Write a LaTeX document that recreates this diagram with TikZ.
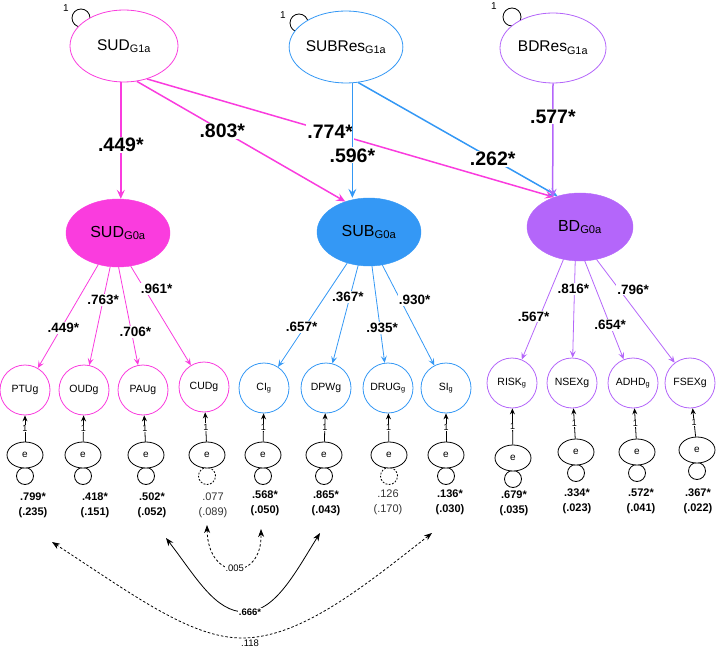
\documentclass[tikz,border=0pt]{standalone}
\usepackage{fontspec}
\setmainfont{Liberation Sans}
\usetikzlibrary{arrows.meta,calc,shapes.geometric}
\definecolor{mag}{RGB}{250,60,222}
\definecolor{blu}{RGB}{52,152,245}
\definecolor{pur}{RGB}{180,102,250}
\newcommand{\sbx}[1]{\textsubscript{#1}}
\begin{document}
\begin{tikzpicture}[x=1pt,y=-1pt,
  topell/.style={ellipse, draw=#1, line width=0.8pt, fill=white, minimum width=106pt, minimum height=72pt, inner sep=0pt, font=\fontsize{15.5}{18}\selectfont},
  midell/.style={ellipse, fill=#1, draw=#1, minimum width=104pt, minimum height=68pt, inner sep=0pt, font=\fontsize{16}{18}\selectfont},
  ind/.style={circle, draw=#1, line width=0.8pt, fill=white, minimum size=50pt, inner sep=0pt, font=\fontsize{10.5}{12}\selectfont},
  err/.style={ellipse, draw, fill=white, line width=0.8pt, minimum width=36pt, minimum height=26pt, inner sep=0pt, font=\fontsize{10}{12}\selectfont},
  loopc/.style={circle, draw, line width=0.8pt, minimum size=17pt, inner sep=0pt},
  pth/.style={line width=1.5pt, draw=#1, -{Stealth[length=9pt,width=8pt,inset=3.5pt]}},
  pathlab/.style={fill=white, inner sep=1pt, font=\fontsize{19.5}{22}\selectfont\bfseries},
  ldarr/.style={line width=0.8pt, draw=#1, -{Stealth[length=7pt,width=6pt,inset=3pt]}},
  loadlab/.style={fill=white, inner sep=1pt, font=\fontsize{13.5}{15}\selectfont\bfseries},
  errarr/.style={line width=0.8pt, -{Stealth[length=6pt,width=5pt,inset=2pt]}},
  one/.style={fill=white, inner sep=0.6pt, font=\fontsize{9}{10}\selectfont},
  onetop/.style={inner sep=0pt, font=\fontsize{10}{12}\selectfont},
  varlab/.style={align=center, font=\fontsize{11}{15}\selectfont\bfseries, inner sep=0pt},
  varlabn/.style={align=center, font=\fontsize{11}{15}\selectfont, text=black!80, inner sep=0pt},
  cov/.style={line width=0.8pt, {Stealth[length=8pt,width=6pt,inset=2.5pt]}-{Stealth[length=8pt,width=6pt,inset=2.5pt]}},
  covdash/.style={cov, dash pattern=on 2.5pt off 2pt},
  covlab/.style={fill=white, inner sep=0.6pt, font=\fontsize{9.5}{11}\selectfont},
  dloop/.style={loopc, dash pattern=on 1.8pt off 1.5pt}
]
\useasboundingbox (0,0) rectangle (720,647);

% top latent variables with variance loops
\node[loopc, minimum size=18pt] (l1) at (81,18) {};
\node[loopc, minimum size=18pt] (l2) at (299,23) {};
\node[loopc, minimum size=18pt] (l3) at (512,17) {};
\node[onetop] (o1) at (66,8) {1};
\node[onetop] (o2) at (283,15) {1};
\node[onetop] (o3) at (494,6) {1};
\node[topell=mag, minimum width=108pt] (SUDG1a) at (124,46) {SUD\sbx{G1a}};
\node[topell=blu] (SUBResG1a) at (346,47) {SUBRes\sbx{G1a}};
\node[topell=pur, minimum height=70pt] (BDResG1a) at (553,48) {BDRes\sbx{G1a}};

% middle latent variables
\node[midell=mag] (SUDG0a) at (118,233) {SUD\sbx{G0a}};
\node[midell=blu] (SUBG0a) at (369,232) {SUB\sbx{G0a}};
\node[midell=pur, minimum width=106pt] (BDG0a) at (580,227) {BD\sbx{G0a}};

% structural paths
\draw[pth=mag] (SUDG1a.-95) -- (SUDG1a.-95 |- SUDG0a.north) node[pathlab,pos=0.54]{.449*};
\draw[pth=mag] (SUDG1a.-70) -- (SUBG0a.128) node[pathlab,pos=0.41]{.803*};
\draw[pth=mag] (SUDG1a.-55) -- (BDG0a.131) node[pathlab,pos=0.45]{.774*};
\draw[pth=blu] (SUBResG1a.-80) -- (SUBResG1a.-80 |- SUBG0a.north) node[pathlab,pos=0.63]{.596*};
\draw[pth=blu] (SUBResG1a.-71) -- (BDG0a.126) node[pathlab,pos=0.675]{.262*};
\draw[pth=pur] (BDResG1a.south) -- (BDG0a.133) node[pathlab,pos=0.29]{.577*};

% indicators
\node[ind=mag] (PTUg) at (25,390) {PTUg};
\node[ind=mag] (OUDg) at (84,390) {OUDg};
\node[ind=mag] (PAUg) at (143,390) {PAUg};
\node[ind=mag] (CUDg) at (204,387) {CUDg};
\node[ind=blu] (CIg) at (264,388) {CI\sbx{g}};
\node[ind=blu] (DPWg) at (326,388) {DPWg};
\node[ind=blu] (DRUGg) at (388,388) {DRUG\sbx{g}};
\node[ind=blu] (SIg) at (446,388) {SI\sbx{g}};
\node[ind=pur] (RISKg) at (512,383) {RISK\sbx{g}};
\node[ind=pur] (NSEXg) at (572,383) {NSEXg};
\node[ind=pur] (ADHDg) at (633,383) {ADHD\sbx{g}};
\node[ind=pur] (FSEXg) at (690,383) {FSEXg};

% loadings
\draw[ldarr=mag] (SUDG0a.-122) -- (PTUg) node[loadlab,pos=0.61,xshift=2pt]{.449*};
\draw[ldarr=mag] (SUDG0a.-103) -- (OUDg) node[loadlab,pos=0.34]{.763*};
\draw[ldarr=mag] (SUDG0a.-89) -- (PAUg) node[loadlab,pos=0.66,xshift=4pt]{.706*};
\draw[ldarr=mag] (SUDG0a.-69) -- (CUDg) node[loadlab,pos=0.23,xshift=12pt]{.961*};
\draw[ldarr=blu] (SUBG0a.-125) -- (CIg) node[loadlab,pos=0.615,xshift=-3pt]{.657*};
\draw[ldarr=blu] (SUBG0a.-108) -- (DPWg) node[loadlab,pos=0.32,xshift=-2pt]{.367*};
\draw[ldarr=blu] (SUBG0a.-85) -- (DRUGg) node[loadlab,pos=0.64,xshift=2pt]{.935*};
\draw[ldarr=blu] (SUBG0a.-68) -- (SIg) node[loadlab,pos=0.35,xshift=14pt]{.930*};
\draw[ldarr=pur] (BDG0a.-117) -- (RISKg) node[loadlab,pos=0.57,xshift=-6pt]{.567*};
\draw[ldarr=pur] (BDG0a.-98) -- (NSEXg) node[loadlab,pos=0.29,xshift=-1pt]{.816*};
\draw[ldarr=pur] (BDG0a.-82) -- (ADHDg) node[loadlab,pos=0.65]{.654*};
\draw[ldarr=pur] (BDG0a.-63) -- (FSEXg) node[loadlab,pos=0.29,xshift=14pt]{.796*};

% error terms
\foreach \n/\x/\y/\st in {1/25/455/loopc,2/83/455/loopc,3/146/455/loopc,4/207/455/dloop,5/263/455/loopc,6/324/455/loopc,7/389/455/dloop,8/446/455/loopc,9/513/458/loopc,10/576/452/loopc,11/637/452/loopc,12/697/450/loopc}{
  \node[\st] (v\n) at (\x,\y+21) {};
  \node[err] (e\n) at (\x,\y) {e};
}
\foreach \n/\t in {1/PTUg,2/OUDg,3/PAUg,4/CUDg,5/CIg,6/DPWg,7/DRUGg,8/SIg,9/RISKg,10/NSEXg,11/ADHDg,12/FSEXg}{
  \draw[errarr] (e\n) -- (\t) node[one,midway]{1};
}

% residual variances
\node[varlab] (r1) at (33,505) {.799*\\(.235)};
\node[varlab] (r2) at (95,505) {.418*\\(.151)};
\node[varlab] (r3) at (152,505) {.502*\\(.052)};
\node[varlabn] (r4) at (213,505) {.077\\(.089)};
\node[varlab] (r5) at (265,503) {.568*\\(.050)};
\node[varlab] (r6) at (326,503) {.865*\\(.043)};
\node[varlabn] (r7) at (388,502) {.126\\(.170)};
\node[varlab] (r8) at (450,502) {.136*\\(.030)};
\node[varlab] (r9) at (514,503) {.679*\\(.035)};
\node[varlab] (r10) at (577,501) {.334*\\(.023)};
\node[varlab] (r11) at (641,501) {.572*\\(.041)};
\node[varlab] (r12) at (698,501) {.367*\\(.022)};

% residual covariances
\coordinate (a005) at (207,525);
\coordinate (b005) at (261,529);
\coordinate (a666) at (166,538);
\coordinate (b666) at (320,533);
\coordinate (a118) at (52,542);
\coordinate (b118) at (432,533);
\draw[covdash] (a005) .. controls (208,582) and (262,582) .. (b005) node[covlab,pos=0.5]{.005};
\draw[cov] (a666) .. controls (196,577) and (215,612) .. (245,612) node[covlab,font=\fontsize{9.5}{11}\selectfont\bfseries,xshift=5pt]{.666*} .. controls (275,612) and (295,573) .. (b666);
\draw[covdash] (a118) .. controls (132,594) and (190,638) .. (242,638) node[covlab,xshift=8pt,yshift=-5pt]{.118} .. controls (300,638) and (362,588) .. (b118);
\end{tikzpicture}
\end{document}
